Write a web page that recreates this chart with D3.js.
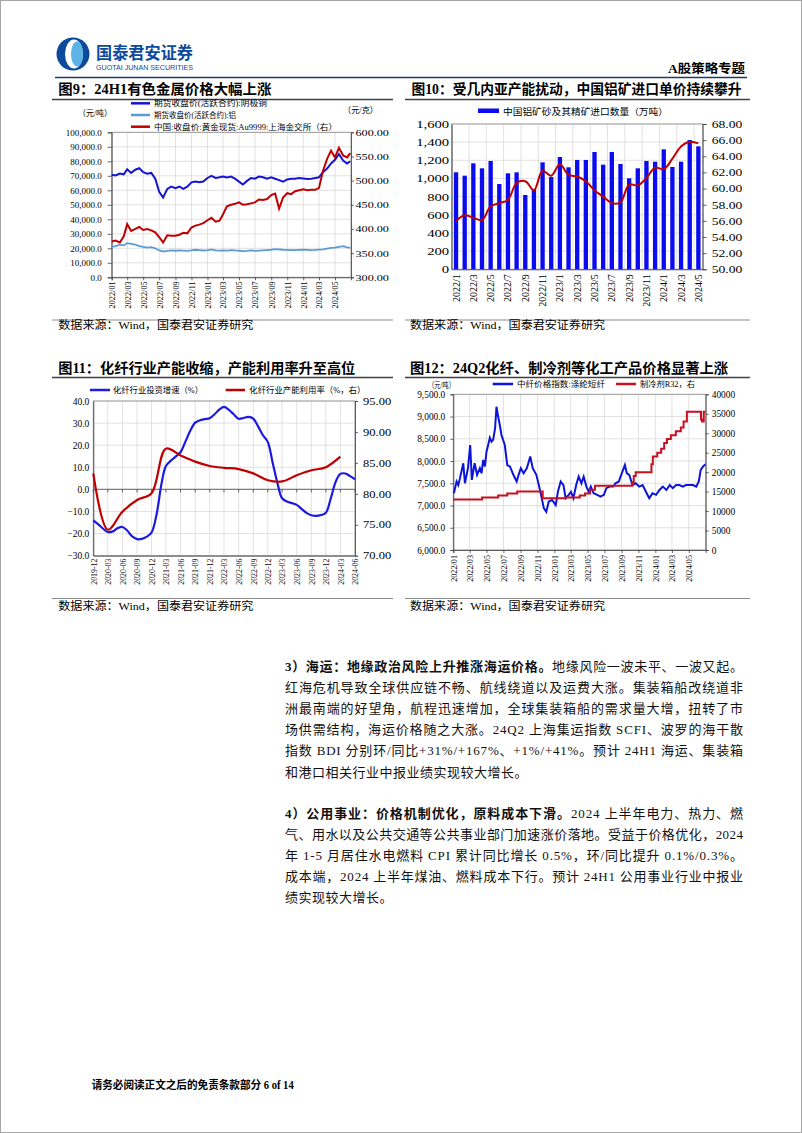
<!DOCTYPE html>
<html><head><meta charset="utf-8">
<script src="https://cdn.jsdelivr.net/npm/d3@7"></script>
<style>html,body{margin:0;padding:0;background:#fff;}svg{display:block;}</style>
</head><body>
<svg id="page" width="802" height="1133"></svg>
<script>
// ---------------- DATA ----------------
// Chart 9: non-ferrous metals (semi-monthly samples, Jan 2022 - Jun 2024)
const c9Ticks = ["2022/01","2022/03","2022/05","2022/07","2022/09","2022/11","2023/01","2023/03","2023/05","2023/07","2023/09","2023/11","2024/01","2024/03","2024/05"];
const c9Copper = [70.7,70.2,71.5,71.0,74.5,72.0,74.2,75.2,72.5,71.5,72.0,68.0,59.0,55.0,61.0,62.5,61.5,62.5,61.0,62.5,65.5,66.0,65.5,66.0,68.5,70.0,68.5,69.0,69.5,68.8,69.5,68.0,66.0,64.0,66.5,68.5,68.0,69.5,69.0,68.0,69.0,68.0,67.0,66.0,67.5,68.0,68.0,68.5,68.2,67.8,68.0,68.5,69.0,72.5,75.0,78.5,81.0,85.0,80.5,78.5,80.0];
const c9Alu = [21.0,21.5,22.5,22.0,23.5,23.0,22.5,21.5,21.0,20.5,20.8,20.0,18.5,17.8,18.2,18.5,18.3,18.6,18.4,18.2,18.6,19.0,18.8,18.5,18.7,19.2,18.6,18.4,18.6,18.4,18.8,18.5,18.3,18.0,18.2,18.5,18.2,18.4,18.6,18.8,19.0,19.4,19.2,19.0,18.9,18.7,18.8,18.9,19.0,18.9,18.8,18.9,19.1,19.3,19.8,20.3,20.5,21.0,21.5,20.6,20.4];
const c9Gold = [374,376,372,385,410,396,400,404,398,400,397,393,383,372,387,386,386,388,392,391,403,407,409,412,418,423,415,417,430,447,450,452,455,450,451,453,455,461,460,462,470,473,442,465,474,472,478,480,482,480,481,481,485,520,545,562,548,568,552,548,557];

// Chart 10: bauxite imports (monthly)
const c10Months = ["2022/1","2022/2","2022/3","2022/4","2022/5","2022/6","2022/7","2022/8","2022/9","2022/10","2022/11","2022/12","2023/1","2023/2","2023/3","2023/4","2023/5","2023/6","2023/7","2023/8","2023/9","2023/10","2023/11","2023/12","2024/1","2024/2","2024/3","2024/4","2024/5"];
const c10Import = [1068,1031,1167,1112,1193,939,1057,1068,818,880,1178,1017,1237,1123,1204,1204,1292,1152,1292,1160,1002,1112,1193,1185,1321,1127,1185,1424,1354];
const c10Price = [56.0,56.7,56.4,56.1,57.8,58.2,58.6,60.7,60.9,59.8,62.2,61.6,63.0,61.7,61.5,60.9,59.8,59.0,58.2,58.3,60.5,60.4,61.3,62.6,62.4,63.7,65.2,65.8,65.6];

// Chart 11: chemical fibre (monthly investment growth, quarterly utilisation)
const c11Ticks = ["2019-12","2020-03","2020-06","2020-09","2020-12","2021-03","2021-06","2021-09","2021-12","2022-03","2022-06","2022-09","2022-12","2023-03","2023-06","2023-09","2023-12","2024-03","2024-06"];
const c11Invest = [-14.0,-15.8,-17.8,-19.3,-19.0,-17.6,-17.0,-18.6,-21.3,-22.5,-22.4,-21.4,-19.5,-11.5,2.4,10.6,13.0,14.8,16.8,21.5,26.5,30.2,31.3,31.8,32.2,34.0,36.2,37.3,36.0,34.0,32.0,32.3,32.8,32.0,28.5,24.5,21.5,12.0,2.5,-4.0,-5.5,-6.2,-7.0,-8.8,-10.6,-11.7,-12.0,-11.6,-10.6,-4.0,3.5,7.0,7.2,6.0,4.6];
const c11UtilQuarters = ["2019-12","2020-03","2020-06","2020-09","2020-12","2021-03","2021-06","2021-09","2021-12","2022-03","2022-06","2022-09","2022-12","2023-03","2023-06","2023-09","2023-12","2024-03"];
const c11Util = [83.3,74.2,77.1,79.0,80.1,87.3,86.2,85.2,84.5,84.2,84.0,83.3,82.2,82.0,83.0,83.8,84.3,86.0];

// Chart 12: polyester staple fibre index & R32 refrigerant
const c12Ticks = c9Ticks;
const c12FiberDates = ["2022-01-03","2022-01-13","2022-01-19","2022-01-25","2022-02-06","2022-02-12","2022-02-23","2022-03-03","2022-03-09","2022-03-19","2022-03-28","2022-04-07","2022-04-13","2022-04-19","2022-04-25","2022-05-01","2022-05-07","2022-05-13","2022-05-19","2022-05-25","2022-06-01","2022-06-06","2022-06-12","2022-06-18","2022-06-24","2022-07-06","2022-07-15","2022-07-25","2022-08-06","2022-08-18","2022-08-25","2022-09-02","2022-09-12","2022-09-24","2022-10-06","2022-10-15","2022-10-28","2022-11-06","2022-11-14","2022-11-24","2022-12-03","2022-12-12","2022-12-24","2023-01-06","2023-01-14","2023-01-24","2023-02-03","2023-02-11","2023-02-22","2023-03-02","2023-03-11","2023-03-21","2023-03-30","2023-04-09","2023-04-17","2023-04-27","2023-05-05","2023-05-13","2023-05-23","2023-06-05","2023-06-17","2023-06-29","2023-07-08","2023-07-20","2023-08-02","2023-08-10","2023-08-22","2023-09-04","2023-09-13","2023-09-20","2023-09-29","2023-10-10","2023-10-22","2023-11-04","2023-11-16","2023-11-28","2023-12-10","2023-12-22","2024-01-04","2024-01-16","2024-01-28","2024-02-10","2024-02-22","2024-03-04","2024-03-16","2024-03-28","2024-04-09","2024-04-21","2024-05-04","2024-05-16","2024-05-28","2024-06-06","2024-06-13","2024-06-21","2024-06-30"];
const c12Fiber = [7275,7540,7460,7610,7950,7500,7840,8360,7575,7950,7690,7840,7725,8025,7875,8210,8360,8525,8435,8475,8735,9220,9000,8810,8585,8360,7910,7875,7690,7540,7690,7840,7725,7840,8100,7840,7690,7460,7240,6940,6860,7090,7125,7010,7310,7540,7460,7165,7240,7310,7165,7460,7650,7500,7650,7425,7310,7425,7275,7240,7200,7240,7390,7425,7425,7500,7540,7760,7910,7725,7690,7460,7500,7425,7460,7310,7165,7275,7240,7350,7425,7350,7460,7390,7460,7460,7425,7460,7460,7460,7425,7540,7800,7875,7925];
const c12R32Dates = ["2022-01-01","2022-04-15","2022-06-12","2022-07-15","2022-08-20","2022-11-20","2023-02-10","2023-04-03","2023-04-22","2023-05-10","2023-05-28","2023-10-10","2023-10-15","2023-10-22","2023-12-18","2023-12-23","2024-01-08","2024-01-22","2024-02-02","2024-02-12","2024-02-26","2024-03-15","2024-04-02","2024-04-12","2024-04-24","2024-06-14","2024-06-18","2024-06-24","2024-06-30"];
const c12R32 = [13000,13500,14000,14500,15000,13300,13500,14000,14500,15500,16500,17500,19000,20000,22000,24000,25000,26000,27500,28500,29500,30500,31500,33000,35500,33500,33000,35500,35500];

// ---------------- HELPERS ----------------
const SERIF = "'Liberation Serif','Times New Roman','Noto Sans CJK SC',serif";
const CJK = "'Noto Sans CJK SC','Liberation Serif',sans-serif";
const page = d3.select("#page");
const pYM = d3.timeParse("%Y/%m"), pYM2 = d3.timeParse("%Y-%m"), pYMD = d3.timeParse("%Y-%m-%d");

function txt(p, x, y, s, o = {}) {
  const t = p.append("text").attr("x", x).attr("y", y).text(s)
    .attr("font-family", o.ff || SERIF).attr("font-size", o.fs || 10).attr("fill", o.fill || "#000");
  if (o.fw) t.attr("font-weight", o.fw);
  if (o.anchor) t.attr("text-anchor", o.anchor);
  if (o.len) t.attr("textLength", o.len).attr("lengthAdjust", o.adj || "spacingAndGlyphs");
  if (o.ls) t.attr("letter-spacing", o.ls);
  return t;
}
function hline(p, x1, x2, y, c, w) { p.append("line").attr("x1", x1).attr("x2", x2).attr("y1", y).attr("y2", y).attr("stroke", c).attr("stroke-width", w); }
function styleAxis(g, fs, stretch) {
  g.select(".domain").attr("stroke", "#404040").attr("stroke-width", 0.8);
  g.selectAll(".tick line").attr("stroke", "#404040").attr("stroke-width", 0.8);
  g.selectAll("text").attr("font-family", SERIF).attr("font-size", fs).attr("fill", "#000");
  if (stretch && stretch !== 1) g.selectAll("text").each(function () {
    const w = this.getComputedTextLength();
    this.setAttribute("textLength", w * stretch); this.setAttribute("lengthAdjust", "spacingAndGlyphs");
  });
}
function rotLabels(g, gap) {
  g.selectAll("text").attr("transform", "rotate(-90)").attr("text-anchor", "end")
    .attr("x", -gap).attr("y", 0).attr("dy", "0.35em");
}
function frame(p, b) {
  p.append("rect").attr("x", b.x0).attr("y", b.y0).attr("width", b.x1 - b.x0).attr("height", b.y1 - b.y0)
    .attr("fill", "none").attr("stroke", "#8c8c8c").attr("stroke-width", 0.8);
}
function grid(p, b, xs, ys) {
  p.append("g").selectAll("line.v").data(xs).join("line").attr("x1", d => d).attr("x2", d => d)
    .attr("y1", b.y0).attr("y2", b.y1).attr("stroke", "#d9d9d9").attr("stroke-width", 0.8);
  p.append("g").selectAll("line.h").data(ys).join("line").attr("y1", d => d).attr("y2", d => d)
    .attr("x1", b.x0).attr("x2", b.x1).attr("stroke", "#d9d9d9").attr("stroke-width", 0.8);
}

// ---------------- PAGE / HEADER ----------------
page.append("rect").attr("x", 0.5).attr("y", 0.5).attr("width", 801).attr("height", 1132).attr("fill", "#fff").attr("stroke", "#a6a6a6");
const logo = page.append("g");
logo.append("circle").attr("cx", 73).attr("cy", 54).attr("r", 16.5).attr("fill", "#0c4a9c");
logo.append("ellipse").attr("cx", 74).attr("cy", 54).attr("rx", 9).attr("ry", 14.5).attr("fill", "#fff");
logo.append("ellipse").attr("cx", 77).attr("cy", 54).attr("rx", 6).attr("ry", 12.5).attr("fill", "#5cb3e8");
txt(page, 96, 59, "国泰君安证券", { ff: CJK, fs: 16.5, fw: 700, fill: "#0c4a9c", len: 97 });
txt(page, 96, 70, "GUOTAI JUNAN SECURITIES", { ff: "'Liberation Sans',sans-serif", fs: 7.2, fill: "#0c4a9c", len: 97 });
txt(page, 745, 73, "A股策略专题", { fs: 12.5, fw: 700, anchor: "end", len: 77 });
hline(page, 55, 747, 77.5, "#1f3864", 1.5);

// titles, rules, sources
txt(page, 58.3, 93.5, "图9：24H1有色金属价格大幅上涨", { fs: 14, fw: 700, len: 213 });
txt(page, 411.5, 93.5, "图10：受几内亚产能扰动，中国铝矿进口单价持续攀升", { fs: 14, fw: 700, len: 330 });
txt(page, 58.3, 372.5, "图11：化纤行业产能收缩，产能利用率升至高位", { fs: 14, fw: 700, len: 297 });
txt(page, 410, 372.5, "图12：24Q2化纤、制冷剂等化工产品价格显著上涨", { fs: 14, fw: 700, len: 318 });
[[52, 393, 99.5], [405, 750, 99.5], [52, 393, 377.5], [405, 750, 377.5]].forEach(a => hline(page, a[0], a[1], a[2], "#404040", 1.6));
[[52, 393, 320], [405, 750, 320], [52, 393, 598.5], [405, 750, 598.5]].forEach(a => hline(page, a[0], a[1], a[2], "#8c8c8c", 1));
[[58.3, 328.5], [410, 328.5], [58.3, 610], [410, 610]].forEach(a => txt(page, a[0], a[1], "数据来源：Wind，国泰君安证券研究", { fs: 11, len: 195 }));

// ---------------- CHART 9 ----------------
(function () {
  const g = page.append("g");
  const b = { x0: 111.7, x1: 351, y0: 132.3, y1: 277.3 };
  const dates = d3.range(c9Copper.length).map(i => i < 60 ? new Date(2022, Math.floor(i / 2), i % 2 ? 16 : 1) : new Date(2024, 5, 28));
  const x = d3.scaleTime().domain([new Date(2022, 0, 1), new Date(2024, 6, 1)]).range([b.x0, b.x1]);
  const yL = d3.scaleLinear().domain([0, 100000]).range([b.y1, b.y0]);
  const yR = d3.scaleLinear().domain([300, 600]).range([b.y1, b.y0]);
  const tickDates = c9Ticks.map(pYM);
  grid(g, b, tickDates.map(x), d3.range(0, 100001, 10000).map(yL));
  frame(g, b);
  const ax = g.append("g").attr("transform", `translate(0,${b.y1})`).call(d3.axisBottom(x).tickValues(tickDates).tickFormat(d3.timeFormat("%Y/%m")).tickSize(3));
  styleAxis(ax, 8.3); rotLabels(ax, 4);
  const al = g.append("g").attr("transform", `translate(${b.x0},0)`).call(d3.axisLeft(yL).tickValues(d3.range(0, 100001, 10000)).tickFormat(d3.format(",.1f")).tickSize(4).tickPadding(6));
  styleAxis(al, 9);
  const ar = g.append("g").attr("transform", `translate(${b.x1},0)`).call(d3.axisRight(yR).tickValues(d3.range(300, 601, 50)).tickFormat(d3.format(".2f")).tickSize(3).tickPadding(1.5));
  styleAxis(ar, 9, 1.35);
  const mk = (vals, y, k) => d3.line().x((d, i) => x(dates[i])).y(d => y(d * k))(vals);
  g.append("path").attr("d", mk(c9Alu, yL, 1000)).attr("fill", "none").attr("stroke", "#5b9bd5").attr("stroke-width", 1.8);
  g.append("path").attr("d", mk(c9Copper, yL, 1000)).attr("fill", "none").attr("stroke", "#1414d2").attr("stroke-width", 2);
  g.append("path").attr("d", mk(c9Gold, yR, 1)).attr("fill", "none").attr("stroke", "#c00000").attr("stroke-width", 2);
  // legend
  const lg = [["期货收盘价(活跃合约):阴极铜", "#1414d2", 103.3, 113], ["期货收盘价(活跃合约):铝", "#5b9bd5", 115, 82], ["中国:收盘价:黄金现货:Au9999:上海金交所（右）", "#c00000", 126.7, 183]];
  lg.forEach(l => { hline(g, 131, 150, l[2], l[1], 2.5); txt(g, 154, l[2] + 3, l[0], { fs: 8, len: l[3] }); });
  txt(g, 78, 116, "（元/吨）", { fs: 8.5, len: 34 });
  txt(g, 343, 112.5, "（元/克）", { fs: 8.5, len: 35 });
})();

// ---------------- CHART 10 ----------------
(function () {
  const g = page.append("g");
  const b = { x0: 451.7, x1: 702.7, y0: 124, y1: 269.3 };
  const x = d3.scaleBand().domain(c10Months).range([b.x0, b.x1]).paddingInner(0.5).paddingOuter(0.25);
  const yL = d3.scaleLinear().domain([0, 1600]).range([b.y1, b.y0]);
  const yR = d3.scaleLinear().domain([50, 68]).range([b.y1, b.y0]);
  const labelled = c10Months.filter((d, i) => i % 2 === 0);
  grid(g, b, labelled.map(m => b.x0 + c10Months.indexOf(m) * x.step()), d3.range(0, 1601, 200).map(yL));
  frame(g, b);
  g.append("g").selectAll("rect").data(c10Import).join("rect")
    .attr("x", (d, i) => x(c10Months[i])).attr("width", x.bandwidth())
    .attr("y", d => yL(d)).attr("height", d => yL(0) - yL(d)).attr("fill", "#0b0bf0");
  const line = d3.line().curve(d3.curveCatmullRom.alpha(0.5)).x((d, i) => x(c10Months[i]) + x.bandwidth() / 2).y(d => yR(d));
  g.append("path").attr("d", line(c10Price)).attr("fill", "none").attr("stroke", "#c00000").attr("stroke-width", 2);
  const ax = g.append("g").attr("transform", `translate(0,${b.y1})`).call(d3.axisBottom(x).tickValues(labelled).tickSize(0));
  styleAxis(ax, 10); rotLabels(ax, 5);
  const al = g.append("g").attr("transform", `translate(${b.x0},0)`).call(d3.axisLeft(yL).tickValues(d3.range(0, 1601, 200)).tickFormat(d3.format(",")).tickSize(0).tickPadding(2.5));
  styleAxis(al, 10.5, 1.4);
  const ar = g.append("g").attr("transform", `translate(${b.x1},0)`).call(d3.axisRight(yR).tickValues(d3.range(50, 68.1, 2)).tickFormat(d3.format(".2f")).tickSize(4).tickPadding(5));
  styleAxis(ar, 10.5, 1.3);
  g.append("rect").attr("x", 478).attr("y", 108.5).attr("width", 21).attr("height", 4.5).attr("fill", "#0b0bf0");
  txt(g, 503, 114.5, "中国铝矿砂及其精矿进口数量（万吨）", { fs: 9, len: 165 });
})();

// ---------------- CHART 11 ----------------
(function () {
  const g = page.append("g");
  const b = { x0: 93.3, x1: 355, y0: 401, y1: 555.7 };
  const x = d3.scaleTime().domain([new Date(2019, 11, 1), new Date(2024, 5, 1)]).range([b.x0, b.x1]);
  const yL = d3.scaleLinear().domain([-30, 40]).range([b.y1, b.y0]);
  const yR = d3.scaleLinear().domain([70, 95]).range([b.y1, b.y0]);
  const tickDates = c11Ticks.map(pYM2);
  grid(g, b, tickDates.map(x), d3.range(-30, 41, 10).map(yL));
  frame(g, b);
  // zero line with small ticks
  hline(g, b.x0, b.x1, yL(0), "#7f7f7f", 1.2);
  g.append("g").selectAll("line").data(tickDates).join("line").attr("x1", d => x(d)).attr("x2", d => x(d))
    .attr("y1", yL(0)).attr("y2", yL(0) + 3).attr("stroke", "#404040").attr("stroke-width", 0.8);
  const ax = g.append("g").attr("transform", `translate(0,${b.y1})`).call(d3.axisBottom(x).tickValues(tickDates).tickFormat(d3.timeFormat("%Y-%m")).tickSize(0));
  styleAxis(ax, 7.8); rotLabels(ax, 3);
  const al = g.append("g").attr("transform", `translate(${b.x0},0)`).call(d3.axisLeft(yL).tickValues(d3.range(-30, 41, 10)).tickFormat(d3.format(".1f")).tickSize(0).tickPadding(4));
  styleAxis(al, 9.5);
  const ar = g.append("g").attr("transform", `translate(${b.x1},0)`).call(d3.axisRight(yR).tickValues(d3.range(70, 96, 5)).tickFormat(d3.format(".2f")).tickSize(3).tickPadding(5));
  styleAxis(ar, 10, 1.25);
  const monthDates = c11Invest.map((d, i) => new Date(2019, 11 + i, 1));
  const lb = d3.line().curve(d3.curveCatmullRom.alpha(0.5)).x((d, i) => x(monthDates[i])).y(d => yL(d));
  g.append("path").attr("d", lb(c11Invest)).attr("fill", "none").attr("stroke", "#1a1ae0").attr("stroke-width", 2.2);
  const qd = c11UtilQuarters.map(pYM2);
  const lr = d3.line().curve(d3.curveCatmullRom.alpha(0.5)).x((d, i) => x(qd[i])).y(d => yR(d));
  g.append("path").attr("d", lr(c11Util)).attr("fill", "none").attr("stroke", "#c00000").attr("stroke-width", 2.2);
  hline(g, 90, 110, 390, "#1a1ae0", 2.5); txt(g, 113, 393, "化纤行业投资增速（%）", { fs: 8.5, len: 90 });
  hline(g, 225.7, 245, 390, "#c00000", 2.5); txt(g, 249.3, 393, "化纤行业产能利用率（%，右）", { fs: 8.5, len: 116 });
})();

// ---------------- CHART 12 ----------------
(function () {
  const g = page.append("g");
  const b = { x0: 453.3, x1: 705.7, y0: 394.3, y1: 550 };
  const x = d3.scaleTime().domain([new Date(2022, 0, 1), new Date(2024, 6, 1)]).range([b.x0, b.x1]);
  const yL = d3.scaleLinear().domain([6000, 9500]).range([b.y1, b.y0]);
  const yR = d3.scaleLinear().domain([0, 40000]).range([b.y1, b.y0]);
  const tickDates = c12Ticks.map(pYM);
  grid(g, b, tickDates.map(x), d3.range(6000, 9501, 500).map(yL));
  frame(g, b);
  const ax = g.append("g").attr("transform", `translate(0,${b.y1})`).call(d3.axisBottom(x).tickValues(tickDates).tickFormat(d3.timeFormat("%Y/%m")).tickSize(3));
  styleAxis(ax, 8.2); rotLabels(ax, 5);
  const al = g.append("g").attr("transform", `translate(${b.x0},0)`).call(d3.axisLeft(yL).tickValues(d3.range(6000, 9501, 500)).tickFormat(d3.format(",.1f")).tickSize(3).tickPadding(5));
  styleAxis(al, 9.4);
  const ar = g.append("g").attr("transform", `translate(${b.x1},0)`).call(d3.axisRight(yR).tickValues(d3.range(0, 40001, 5000)).tickFormat(d3.format("d")).tickSize(3).tickPadding(3));
  styleAxis(ar, 9.4);
  const fd = c12FiberDates.map(pYMD), rd = c12R32Dates.map(pYMD);
  const lb = d3.line().x((d, i) => x(fd[i])).y(d => yL(d));
  g.append("path").attr("d", lb(c12Fiber)).attr("fill", "none").attr("stroke", "#0c14dc").attr("stroke-width", 2);
  const lr = d3.line().curve(d3.curveStepAfter).x((d, i) => x(rd[i])).y(d => yR(d));
  g.append("path").attr("d", lr(c12R32)).attr("fill", "none").attr("stroke", "#c8101e").attr("stroke-width", 2);
  txt(g, 428, 387.5, "（元/吨）", { fs: 8, len: 27 });
  hline(g, 492.7, 513, 384, "#0c14dc", 2.5); txt(g, 517, 387, "中纤价格指数:涤纶短纤", { fs: 8, len: 88 });
  hline(g, 616, 636, 384, "#c8101e", 2.5); txt(g, 640, 387, "制冷剂R32，右", { fs: 8, len: 55 });
})();

// ---------------- BODY TEXT ----------------
const bodyP1 = [
  [["3）海运：地缘政治风险上升推涨海运价格。", 1], ["地缘风险一波未平、一波又起。", 0]],
  [["红海危机导致全球供应链不畅、航线绕道以及运费大涨。集装箱船改绕道非", 0]],
  [["洲最南端的好望角，航程迅速增加，全球集装箱船的需求量大增，扭转了市", 0]],
  [["场供需结构，海运价格随之大涨。24Q2 上海集运指数 SCFI、波罗的海干散", 0]],
  [["指数 BDI 分别环/同比+31%/+167%、+1%/+41%。预计 24H1 海运、集装箱", 0]],
  [["和港口相关行业中报业绩实现较大增长。", 0]]
];
const bodyP2 = [
  [["4）公用事业：价格机制优化，原料成本下滑。", 1], ["2024 上半年电力、热力、燃", 0]],
  [["气、用水以及公共交通等公共事业部门加速涨价落地。受益于价格优化，2024", 0]],
  [["年 1-5 月居住水电燃料 CPI 累计同比增长 0.5%，环/同比提升 0.1%/0.3%。", 0]],
  [["成本端，2024 上半年煤油、燃料成本下行。预计 24H1 公用事业行业中报业", 0]],
  [["绩实现较大增长。", 0]]
];
function para(lines, y0, dy) {
  lines.forEach((ln, i) => {
    const t = page.append("text").attr("x", 285).attr("y", y0 + i * dy)
      .attr("font-family", SERIF).attr("font-size", 13).attr("fill", "#111");
    ln.forEach(s => t.append("tspan").text(s[0]).attr("font-weight", s[1] ? 700 : 400));
    if (i < lines.length - 1) t.attr("textLength", 458).attr("lengthAdjust", "spacing");
    else t.attr("letter-spacing", 0.5);
  });
}
para(bodyP1, 671, 21.1);
para(bodyP2, 818.3, 20.9);

txt(page, 91.7, 1089, "请务必阅读正文之后的免责条款部分 6 of 14", { fs: 11.5, fw: 700, len: 202 });
</script>
</body></html>
